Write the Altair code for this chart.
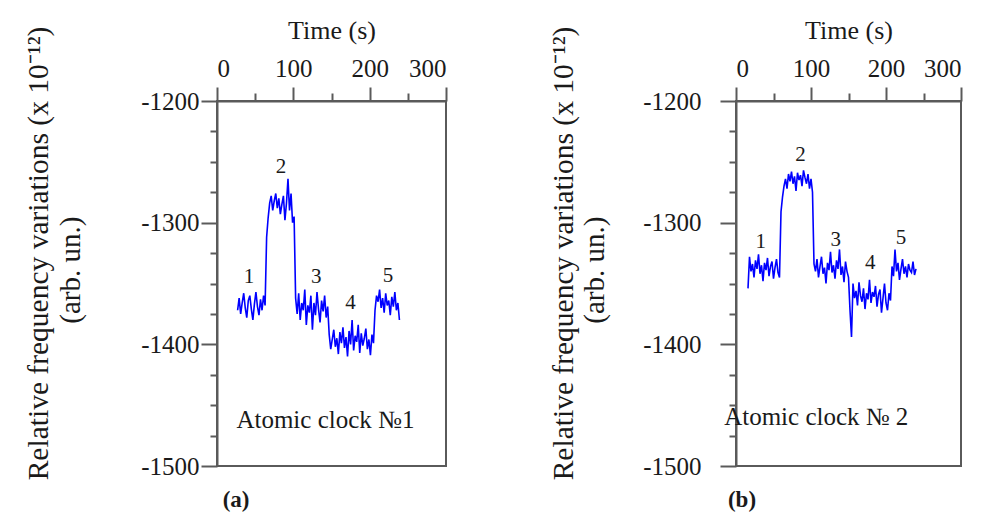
import altair as alt
import pandas as pd

# ---------------- data ----------------
T_STEP = 2
T_A_START = 27
VAL_A = [
    # level 1
    -1372, -1362, -1375, -1366, -1358, -1370, -1378, -1364, -1360, -1371,
    -1380, -1367, -1357, -1369, -1376, -1363, -1372, -1360, -1368,
    # level 2
    -1312, -1296, -1284, -1278, -1290, -1282, -1276, -1288, -1280, -1293,
    -1285, -1278, -1298, -1284, -1264, -1290, -1276, -1300, -1295,
    # level 3
    -1362, -1375, -1358, -1380, -1366, -1372, -1355, -1384, -1368, -1374,
    -1360, -1388, -1366, -1376, -1357, -1371, -1382, -1364, -1373, -1360,
    -1378, -1369,
    # level 4
    -1392, -1404, -1396, -1388, -1402, -1395, -1408, -1390, -1399, -1386,
    -1403, -1394, -1410, -1389, -1400, -1380, -1405, -1393, -1398, -1384,
    -1407, -1391, -1401, -1395, -1387, -1404, -1396, -1409, -1392, -1399,
    # level 5
    -1372, -1360, -1365, -1355, -1370, -1362, -1374, -1358, -1368, -1364,
    -1376, -1361, -1369, -1357, -1372, -1366, -1380,
]

T_B_START = 16
VAL_B = [
    # level 1
    -1354, -1328, -1340, -1334, -1345, -1331, -1338, -1326, -1342, -1335,
    -1348, -1333, -1339, -1329, -1344, -1336, -1332, -1346, -1337, -1330,
    -1341, -1345,
    # level 2
    -1291, -1279, -1270, -1264, -1272, -1260, -1266, -1258, -1268, -1262,
    -1274, -1259, -1265, -1261, -1270, -1257, -1263, -1268, -1260, -1272,
    -1264, -1275,
    # level 3
    -1334, -1340, -1330, -1345, -1336, -1328, -1342, -1337, -1350, -1333,
    -1339, -1324, -1341, -1335, -1346, -1331, -1338, -1322, -1343, -1336,
    -1349, -1332, -1340, -1345,
    # level 4
    -1372, -1394, -1350, -1362, -1356, -1368, -1349, -1360, -1365, -1354,
    -1371, -1358, -1363, -1347, -1366, -1357, -1361, -1352, -1369, -1359,
    -1355, -1374, -1362, -1350, -1366, -1372, -1358, -1364,
    # level 5
    -1336, -1344, -1322, -1340, -1333, -1347, -1338, -1330, -1342, -1336,
    -1345, -1334, -1339, -1341, -1332, -1343, -1338,
]

STEP_LABELS = ["1", "2", "3", "4", "5"]
LABEL_T_A = [42, 84, 130, 175, 224]
LABEL_V_A = [-1345, -1254, -1345, -1366, -1344]
LABEL_T_B = [33, 86, 133, 179, 220]
LABEL_V_B = [-1316, -1244, -1314, -1333, -1313]

CLOCK_NAMES = ["Atomic clock №1", "Atomic clock № 2"]
CLOCK_T = [142, 107]
CLOCK_V = [-1462, -1460]

PANEL_TAGS = ["(a)", "(b)"]
TAG_T = [25, 8]
TAG_V = [-1528, -1528]

UNIT_TEXT = "(arb. un.)"
UNIT_T = [-191, -188]
UNIT_V = [-1339, -1339]

X_MAJOR = [0, 100, 200, 300]
X_MINOR = [50, 150, 250]
Y_MAJOR = [-1500, -1400, -1300, -1200]
Y_MINOR = [-1475, -1450, -1425, -1375, -1350, -1325, -1275, -1250, -1225]

Y_TITLE = "Relative frequency variations (x 10⁻¹²)"
X_TITLE = "Time (s)"

FONT = "Liberation Serif"
TXT = "#1a1a1a"
AX = "#5a5a5a"


def panel(t0, vals, lt, lv, idx, width, lab_pad, title_pad):
    df = pd.DataFrame({"t": [t0 + i * T_STEP for i in range(len(vals))], "v": vals})
    xs = alt.Scale(domain=[0, 300], nice=False, zero=False)
    ys = alt.Scale(domain=[-1500, -1200], nice=False, zero=False)
    xaxis = alt.Axis(
        orient="top", values=X_MAJOR, title=X_TITLE, grid=False,
        labelExpr="toString(datum.value)", tickSize=14,
        labelPadding=6, titlePadding=13,
        labelFontSize=25, titleFontSize=26,
    )
    yaxis = alt.Axis(
        orient="left", values=Y_MAJOR, title=Y_TITLE, grid=False,
        labelExpr="toString(datum.value)", tickSize=16,
        labelPadding=lab_pad, titlePadding=title_pad,
        labelFontSize=25, titleFontSize=29.5,
        titleY=152,
    )
    xminor = alt.Axis(orient="top", values=X_MINOR, title=None, grid=False, labels=False,
                      domain=False, tickSize=8)
    yminor = alt.Axis(orient="left", values=Y_MINOR, title=None, grid=False, labels=False,
                      domain=False, tickSize=7)

    line = alt.Chart(df).mark_line(color="#0000ff", strokeWidth=1.6).encode(
        x=alt.X("t:Q", scale=xs, axis=xaxis), y=alt.Y("v:Q", scale=ys, axis=yaxis))
    minor = alt.Chart(df).mark_line(opacity=0).encode(
        x=alt.X("t:Q", scale=xs, axis=xminor), y=alt.Y("v:Q", scale=ys, axis=yminor))

    def txt(t, v, s, **kw):
        d = pd.DataFrame({"t": t, "v": v, "s": s})
        return alt.Chart(d).mark_text(font=FONT, color=TXT, **kw).encode(
            x=alt.X("t:Q", scale=xs, axis=None), y=alt.Y("v:Q", scale=ys, axis=None),
            text="s:N")

    nums = txt(lt, lv, STEP_LABELS, fontSize=21)
    name = txt([CLOCK_T[idx]], [CLOCK_V[idx]], [CLOCK_NAMES[idx]], fontSize=25)
    tag = txt([TAG_T[idx]], [TAG_V[idx]], [PANEL_TAGS[idx]], fontSize=23, fontWeight="bold")
    unit = txt([UNIT_T[idx]], [UNIT_V[idx]], [UNIT_TEXT], fontSize=29, angle=270)

    return alt.layer(line, minor, nums, name, tag, unit).resolve_axis(
        x="independent", y="independent").properties(width=width, height=365)


pa = panel(T_A_START, VAL_A, LABEL_T_A, LABEL_V_A, 0, 229, 2, 87)
pb = panel(T_B_START, VAL_B, LABEL_T_B, LABEL_V_B, 1, 225, 19, 64)

chart = alt.hconcat(pa, pb, spacing=99).properties(
    padding={"left": 14, "top": 8, "right": 5, "bottom": 0}
).configure_view(
    stroke=AX, strokeWidth=2
).configure_axis(
    labelFont=FONT, titleFont=FONT, labelColor=TXT, titleColor=TXT,
    titleFontWeight="normal", domainColor=AX, domainWidth=2,
    tickColor=AX, tickWidth=2,
)

chart.save("out.html", embed_options={"renderer": "svg", "actions": False})
